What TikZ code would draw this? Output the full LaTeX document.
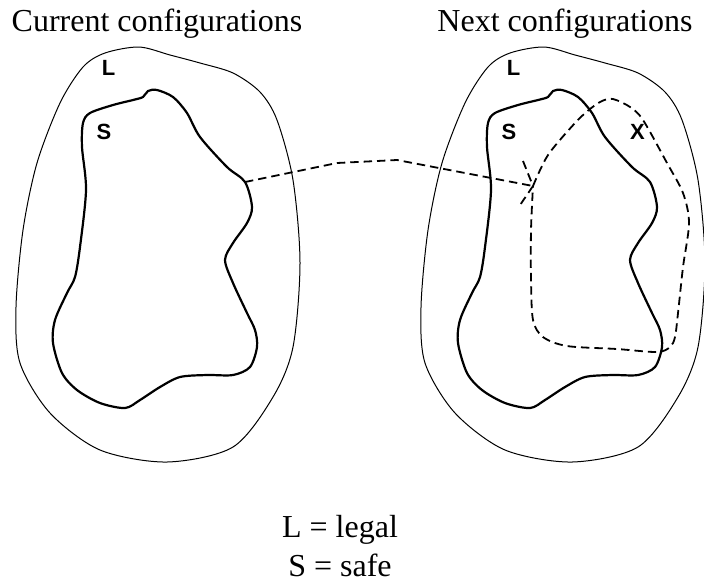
\documentclass[tikz,border=0pt]{standalone}
\usepackage{fontspec}
\setmainfont{Liberation Serif}
\setsansfont{Liberation Sans}

\tikzset{
    legalline/.style={line width=0.5pt},
    safeline/.style={line width=1.1pt},
    moveline/.style={line width=0.9pt, dash pattern=on 4.2pt off 2.5pt},
    setlabel/.style={font=\sffamily\bfseries\fontsize{11}{13}\selectfont, inner sep=0pt},
    captext/.style={font=\fontsize{16}{19}\selectfont, inner sep=0pt, anchor=base},
}

\newcommand{\legalsafe}[2]{%
    \begin{scope}[shift={(#2,0)}]
      \draw[legalline] plot[smooth cycle] coordinates {(139,47) (170,55) (200,63) (233,73) (260,92)
        (277,120) (293,180) (300,263) (293,347) (273,397) (233,447) (167,462) (100,450) (50,413)
        (20,363) (16,307) (23,230) (37,163) (60,103) (83,67) (105,53)};
      \draw[safeline] plot[smooth cycle] coordinates {(148,91) (157,90) (173,97) (187,113) (200,137)
        (227,167) (245,182) (252,207) (247,223) (233,243) (225,260) (233,283) (247,313) (255,330)
        (257,347) (250,367) (233,375) (207,375) (180,377) (160,387) (140,400) (125,408) (100,403)
        (77,390) (62,373) (53,343) (55,320) (67,293) (75,277) (80,247) (86,190) (82,147) (83,123)
        (90,113) (113,105) (133,100) (143,97)};
      \node[setlabel] (#1L) at (108.5,68) {L};
      \node[setlabel] (#1S) at (104,132) {S};
      \coordinate (#1exit) at (245,182);
    \end{scope}}

\begin{document}
\begin{tikzpicture}[x=0.5pt, y=-0.5pt]
    \useasboundingbox (0,0) rectangle (704,580);
    \legalsafe{cur}{0}
    \legalsafe{nxt}{405}
    \node[captext] (curtitle) at (157,31) {Current configurations};
    \node[captext] (nxttitle) at (565,31) {Next configurations};
    \node[setlabel] (nxtX) at (637.5,132) {X};
    \coordinate (jn) at (533,186);
    \coordinate (tipa) at (523,161);
    \coordinate (tipb) at (518,208);
    \draw[moveline] (curexit) -- (337,163) -- (397,160) -- (jn);
    \draw[moveline] (tipa) -- (jn) -- (tipb);
    \draw[moveline] plot[smooth] coordinates {(jn) (548,155) (575,123) (590,109) (602,101) (613,99)
      (630,107) (643,120) (667,163) (683,193) (689,223) (683,267) (678,313) (675,337) (670,347)
      (657,352) (617,349) (567,346) (543,337) (533,320) (531,280) (531,230) (jn)};
    \node[captext] (keyL) at (340,537) {L = legal};
    \node[captext] (keyS) at (340,576) {S = safe};
\end{tikzpicture}
\end{document}
